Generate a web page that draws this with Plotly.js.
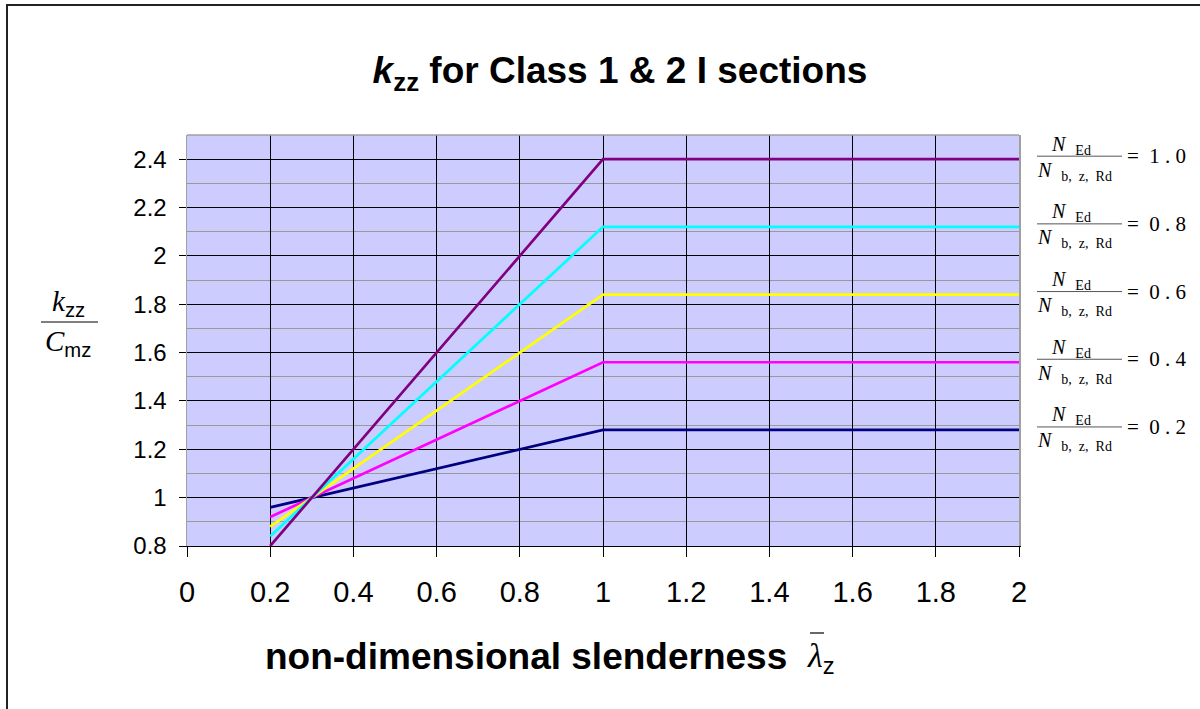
<!DOCTYPE html>
<html>
<head>
<meta charset="utf-8">
<script src="https://cdn.plot.ly/plotly-3.0.1.min.js"></script>
<style>html,body{margin:0;padding:0;background:#fff;}#chart{width:1200px;height:709px;}</style>
</head>
<body>
<div id="chart"></div>
<script>
// ---- data ----
const slenderness = [0.2, 0.4, 0.6, 0.8, 1.0, 2.0];
const kzz_n02 = [0.96, 1.04, 1.12, 1.20, 1.28, 1.28];
const kzz_n04 = [0.92, 1.08, 1.24, 1.40, 1.56, 1.56];
const kzz_n06 = [0.88, 1.12, 1.36, 1.60, 1.84, 1.84];
const kzz_n08 = [0.84, 1.16, 1.48, 1.80, 2.12, 2.12];
const kzz_n10 = [0.80, 1.20, 1.60, 2.00, 2.40, 2.40];
const ratioLabels = ['0.2', '0.4', '0.6', '0.8', '1.0'];
const seriesColors = ['#000080', '#FF00FF', '#FFFF00', '#00FFFF', '#800080'];
const xTickVals = [0, 0.2, 0.4, 0.6, 0.8, 1, 1.2, 1.4, 1.6, 1.8, 2];
const yTickVals = [0.8, 1, 1.2, 1.4, 1.6, 1.8, 2, 2.2, 2.4];

const seriesData = [kzz_n02, kzz_n04, kzz_n06, kzz_n08, kzz_n10];

// ---- layout geometry ----
const W = 1200, H = 709;
const M = {l: 187, r: 181, t: 135, b: 163};
const PW = W - M.l - M.r, PH = H - M.t - M.b;
const px = x => (x - M.l) / PW;          // pixel -> paper x
const py = y => (H - M.b - y) / PH;      // pixel -> paper y

const SERIF = 'Liberation Serif, Times New Roman, serif';
const SANS = 'Liberation Sans, Arial, sans-serif';

const traces = seriesData.map((vals, i) => ({
  x: slenderness, y: vals, type: 'scatter', mode: 'lines',
  name: 'N_Ed/N_b,z,Rd = ' + ratioLabels[i],
  line: {color: seriesColors[i], width: 2.7},
  showlegend: false, hoverinfo: 'x+y'
}));

const annotations = [];
const shapes = [];

// legend-like fractions at the right end of each line
seriesData.forEach((vals, i) => {
  const yEnd = vals[vals.length - 1];
  annotations.push({
    xref: 'paper', yref: 'y', x: px(1071), y: yEnd, yshift: 14,
    text: '<i>N</i>  <sub>Ed</sub>', showarrow: false,
    font: {family: SERIF, size: 20, color: '#000'}, xanchor: 'center', yanchor: 'middle'
  });
  annotations.push({
    xref: 'paper', yref: 'y', x: px(1074), y: yEnd, yshift: -12,
    text: '<i>N</i>  <sub>b,  z,  Rd</sub>', showarrow: false,
    font: {family: SERIF, size: 20, color: '#000'}, xanchor: 'center', yanchor: 'middle'
  });
  annotations.push({
    xref: 'paper', yref: 'y', x: px(1125), y: yEnd, yshift: 3,
    text: '=  ' + ratioLabels[i].split('').join(' '), showarrow: false,
    font: {family: SERIF, size: 21, color: '#000'}, xanchor: 'left', yanchor: 'middle'
  });
  shapes.push({
    type: 'line', xref: 'paper', yref: 'y', ysizemode: 'pixel', yanchor: yEnd,
    x0: px(1037), x1: px(1122), y0: 3, y1: 3,
    line: {color: '#555', width: 1}
  });
});

// y-axis title as a fraction  k_zz / C_mz
annotations.push({
  xref: 'paper', yref: 'paper', x: px(68), y: py(303),
  text: '<i>k</i><span style="font-family:Liberation Sans"><sub>zz</sub></span>', showarrow: false,
  font: {family: SERIF, size: 29, color: '#000'}, xanchor: 'center', yanchor: 'middle'
});
annotations.push({
  xref: 'paper', yref: 'paper', x: px(68), y: py(343),
  text: '<i>C</i><span style="font-family:Liberation Sans"><sub>mz</sub></span>', showarrow: false,
  font: {family: SERIF, size: 29, color: '#000'}, xanchor: 'center', yanchor: 'middle'
});
shapes.push({type: 'line', xref: 'paper', yref: 'paper', x0: px(41), x1: px(98), y0: py(322), y1: py(322),
  line: {color: '#000', width: 1.2}});

// x-axis title
annotations.push({
  xref: 'paper', yref: 'paper', x: px(526), y: py(656),
  text: '<b>non-dimensional slenderness</b>', showarrow: false,
  font: {family: SANS, size: 37, color: '#000'}, xanchor: 'center', yanchor: 'middle'
});
annotations.push({
  xref: 'paper', yref: 'paper', x: px(805), y: py(658),
  text: '<i>λ</i><span style="font-family:Liberation Sans"><sub>z</sub></span>', showarrow: false,
  font: {family: SERIF, size: 34, color: '#000'}, xanchor: 'left', yanchor: 'middle'
});
shapes.push({type: 'line', xref: 'paper', yref: 'paper', x0: px(810), x1: px(824), y0: py(633), y1: py(633),
  line: {color: '#000', width: 1.2}});

// plot-area top border (gray) and outer chart frame
shapes.push({type: 'line', xref: 'paper', yref: 'paper', x0: 0, x1: 1, y0: 1, y1: 1,
  line: {color: '#A0A0A0', width: 1.5}});
shapes.push({type: 'rect', xref: 'paper', yref: 'paper', x0: px(7), x1: px(1215), y0: py(5), y1: py(725),
  line: {color: '#222', width: 2}, fillcolor: 'rgba(0,0,0,0)', layer: 'below'});

const layout = {
  width: W, height: H,
  margin: M,
  paper_bgcolor: '#fff', plot_bgcolor: '#CCCCFF',
  title: {
    text: '<b><i>k</i><sub>zz</sub> for Class 1 &amp; 2 I sections</b>',
    font: {family: SANS, size: 37, color: '#000'},
    xref: 'paper', x: px(620), xanchor: 'center',
    yref: 'container', y: 1 - 70 / H, yanchor: 'middle'
  },
  xaxis: {
    range: [0, 2], tickvals: xTickVals, ticktext: xTickVals.map(String),
    showgrid: true, gridcolor: '#000', gridwidth: 1,
    zeroline: false, showline: true, linecolor: '#000', linewidth: 1,
    ticks: 'outside', ticklen: 10, tickcolor: '#000', tickwidth: 1,
    ticklabelstandoff: 10,
    tickfont: {family: SANS, size: 29, color: '#000'},
    fixedrange: true
  },
  yaxis: {
    range: [0.8, 2.5], tickvals: yTickVals, ticktext: yTickVals.map(String),
    showgrid: true, gridcolor: '#000', gridwidth: 1,
    minor: {dtick: 0.1, tick0: 0.8, showgrid: true, gridcolor: '#9A9A9A', gridwidth: 1, ticks: ''},
    zeroline: false, showline: true, mirror: true, linecolor: '#A0A0A0', linewidth: 1.5,
    ticks: 'outside', ticklen: 7, tickcolor: '#000', tickwidth: 1,
    ticklabelstandoff: 7,
    tickfont: {family: SANS, size: 24, color: '#000'},
    fixedrange: true
  },
  annotations: annotations,
  shapes: shapes
};

Plotly.newPlot('chart', traces, layout, {displayModeBar: false, staticPlot: true});
</script>
</body>
</html>
